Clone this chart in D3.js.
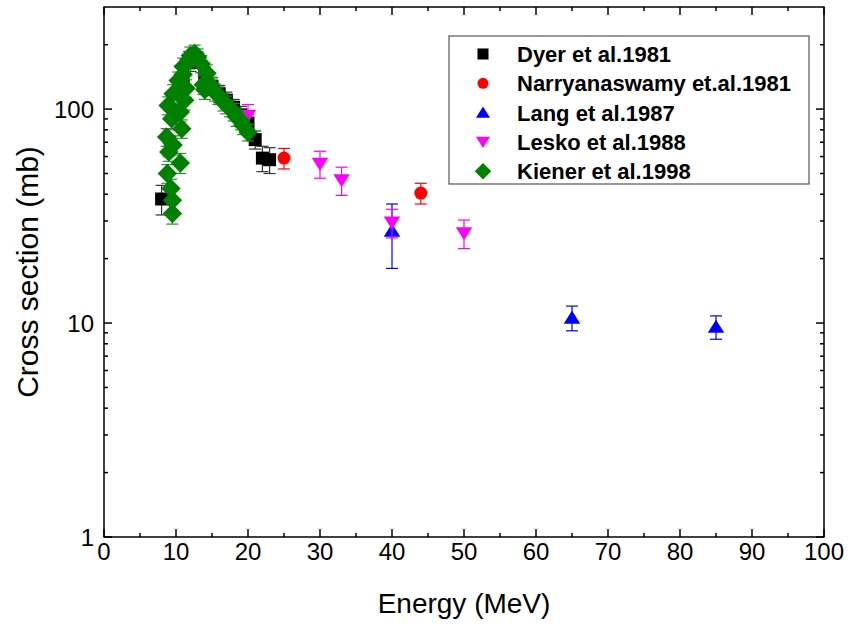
<!DOCTYPE html>
<html>
<head>
<meta charset="utf-8">
<script src="https://cdn.jsdelivr.net/npm/d3@7"></script>
<style>
  body { margin: 0; background: #fff; }
  text { font-family: "Liberation Sans", Arial, sans-serif; }
</style>
</head>
<body>
<script>
// data: energy (MeV), cross section (mb), error (mb)
var dyerE   = [8, 10, 11, 12, 13, 14, 15, 16, 17, 18, 19, 20, 21, 22, 23];
var dyerY   = [38, 95, 130, 165, 170, 145, 128, 118, 110, 102, 94, 86, 72, 59, 58];
var dyerErr = [6, 10, 12, 15, 15, 13, 12, 11, 10, 9, 9, 8, 7, 8, 8];

var narE   = [25, 44];
var narY   = [59, 40.5];
var narErr = [6.5, 4.5];

var langE   = [40, 65, 85];
var langY   = [27, 10.6, 9.6];
var langErr = [9, 1.4, 1.2];

var leskoE   = [9, 20, 30, 33, 40, 50];
var leskoY   = [70, 93, 55.5, 46.5, 29.5, 26.3];
var leskoErr = [10, 12, 8, 7, 4.5, 4];

var kienerE = [9.5, 9.5, 9.3, 8.8, 10.6, 9.0, 9.6, 8.7, 10.8, 9.4, 10.6, 8.9, 11.2, 9.6, 11.4, 10.3, 11.0, 11.0, 11.8,
               12.0, 12.6, 13.0, 13.5, 14.3, 13.8, 14.0, 14.9, 15.4, 15.9, 16.6, 17.0, 17.5, 18.0, 18.4, 19.0, 19.3, 20.0];
var kienerY = [32.5, 37.5, 42.5, 50, 56, 63, 68, 74, 81, 90, 97, 104, 110, 118, 125, 136, 145, 158, 170,
               178, 182, 175, 163, 147, 130, 123, 129, 120, 116, 108, 105, 101, 97, 92, 88, 84, 78];
var kienerErr = [3.5, 4, 4.5, 5, 6, 6, 7, 7, 8, 9, 10, 10, 11, 12, 12, 13, 14, 15, 16,
                 17, 17, 16, 15, 14, 13, 12, 12, 11, 11, 10, 10, 9, 9, 9, 8, 8, 7];

var seriesNames = ["Dyer et al.1981", "Narryanaswamy et.al.1981", "Lang et al.1987", "Lesko et al.1988", "Kiener et al.1998"];
var xTicks = [0, 10, 20, 30, 40, 50, 60, 70, 80, 90, 100];
var yTicks = [1, 10, 100];

var width = 848, height = 624;
var pLeft = 104, pRight = 824, pTop = 7, pBottom = 537;

var svg = d3.select("body").append("svg")
    .attr("width", width)
    .attr("height", height);

var x = d3.scaleLinear().domain([0, 100]).range([pLeft, pRight]);
var y = d3.scaleLog().domain([1, 300]).range([pBottom, pTop]);

// minor ticks
var xMinor = d3.range(5, 100, 10);
var yMinor = [];
[1, 10, 100].forEach(function(dec){
    for (var k = 2; k <= 9; k++) { if (dec * k < 300) yMinor.push(dec * k); }
});

var axes = svg.append("g").attr("stroke", "#000").attr("stroke-width", 1.5);
xTicks.forEach(function(t){
    axes.append("line").attr("x1", x(t)).attr("x2", x(t)).attr("y1", pBottom).attr("y2", pBottom - 8);
    axes.append("line").attr("x1", x(t)).attr("x2", x(t)).attr("y1", pTop).attr("y2", pTop + 8);
});
xMinor.forEach(function(t){
    axes.append("line").attr("x1", x(t)).attr("x2", x(t)).attr("y1", pBottom).attr("y2", pBottom - 4);
    axes.append("line").attr("x1", x(t)).attr("x2", x(t)).attr("y1", pTop).attr("y2", pTop + 4);
});
yTicks.forEach(function(t){
    axes.append("line").attr("x1", pLeft).attr("x2", pLeft + 8).attr("y1", y(t)).attr("y2", y(t));
    axes.append("line").attr("x1", pRight).attr("x2", pRight - 8).attr("y1", y(t)).attr("y2", y(t));
});
yMinor.forEach(function(t){
    axes.append("line").attr("x1", pLeft).attr("x2", pLeft + 4).attr("y1", y(t)).attr("y2", y(t));
    axes.append("line").attr("x1", pRight).attr("x2", pRight - 4).attr("y1", y(t)).attr("y2", y(t));
});
axes.append("rect").attr("x", pLeft).attr("y", pTop)
    .attr("width", pRight - pLeft).attr("height", pBottom - pTop)
    .attr("fill", "none");

svg.selectAll(".xlab").data(xTicks).enter().append("text")
    .attr("x", function(d){ return x(d); })
    .attr("y", 560)
    .attr("text-anchor", "middle")
    .attr("font-size", 24)
    .text(function(d){ return d; });

svg.selectAll(".ylab").data(yTicks).enter().append("text")
    .attr("x", 94)
    .attr("y", function(d){ return y(d) + 9; })
    .attr("text-anchor", "end")
    .attr("font-size", 24)
    .text(function(d){ return d; });

svg.append("text").attr("x", 464).attr("y", 613)
    .attr("text-anchor", "middle").attr("font-size", 28)
    .text("Energy (MeV)");
svg.append("text")
    .attr("transform", "translate(38," + ((pTop + pBottom) / 2) + ") rotate(-90)")
    .attr("text-anchor", "middle").attr("font-size", 30)
    .text("Cross section (mb)");

// marker shapes
function shapePath(kind, s){
    var h = s / 2;
    if (kind == "square") return "M" + (-h) + "," + (-h) + "h" + s + "v" + s + "h" + (-s) + "Z";
    if (kind == "circle") return d3.symbol(d3.symbolCircle, Math.PI * h * h)();
    if (kind == "up") return "M0," + (-h * 0.95) + "L" + (h * 1.1) + "," + (h * 0.8) + "L" + (-h * 1.1) + "," + (h * 0.8) + "Z";
    if (kind == "down") return "M0," + (h * 0.95) + "L" + (h * 1.1) + "," + (-h * 0.8) + "L" + (-h * 1.1) + "," + (-h * 0.8) + "Z";
    if (kind == "diamond") { var d = s * 0.72; return "M0," + (-d) + "L" + d + ",0L0," + d + "L" + (-d) + ",0Z"; }
}

var series = [
    {E: dyerE, Y: dyerY, err: dyerErr, color: "#000000", bar: "#333333", kind: "square", size: 13},
    {E: narE, Y: narY, err: narErr, color: "#ff0000", bar: "#ff0000", kind: "circle", size: 13},
    {E: langE, Y: langY, err: langErr, color: "#0000ff", bar: "#0000ff", kind: "up", size: 15},
    {E: leskoE, Y: leskoY, err: leskoErr, color: "#ff00ff", bar: "#ff00ff", kind: "down", size: 15},
    {E: kienerE, Y: kienerY, err: kienerErr, color: "#008000", bar: "#2e8b2e", kind: "diamond", size: 13.5}
];

series.forEach(function(s){
    var pts = s.E.map(function(e, i){ return {e: e, v: s.Y[i], err: s.err[i]}; });
    var g = svg.append("g");
    var eb = g.selectAll(".eb").data(pts).enter().append("g")
        .attr("stroke", s.bar).attr("stroke-width", 1.2);
    eb.append("line")
        .attr("x1", function(d){ return x(d.e); }).attr("x2", function(d){ return x(d.e); })
        .attr("y1", function(d){ return y(d.v - d.err); }).attr("y2", function(d){ return y(d.v + d.err); });
    eb.append("line")
        .attr("x1", function(d){ return x(d.e) - 6; }).attr("x2", function(d){ return x(d.e) + 6; })
        .attr("y1", function(d){ return y(d.v + d.err); }).attr("y2", function(d){ return y(d.v + d.err); });
    eb.append("line")
        .attr("x1", function(d){ return x(d.e) - 6; }).attr("x2", function(d){ return x(d.e) + 6; })
        .attr("y1", function(d){ return y(d.v - d.err); }).attr("y2", function(d){ return y(d.v - d.err); });
    g.selectAll(".pt").data(pts).enter().append("path")
        .attr("d", shapePath(s.kind, s.size))
        .attr("transform", function(d){ return "translate(" + x(d.e) + "," + y(d.v) + ")"; })
        .attr("fill", s.color);
});

// legend
var leg = svg.append("g");
leg.append("rect").attr("x", 449).attr("y", 36).attr("width", 360).attr("height", 148)
    .attr("fill", "#fff").attr("stroke", "#555").attr("stroke-width", 1.2);
series.forEach(function(s, i){
    var cy = 54 + i * 29.3;
    leg.append("path").attr("d", shapePath(s.kind, s.size * 0.85))
        .attr("transform", "translate(483," + cy + ")")
        .attr("fill", s.color);
    leg.append("text").attr("x", 517).attr("y", cy + 8)
        .attr("font-size", 22).attr("font-weight", "bold")
        .text(seriesNames[i]);
});
</script>
</body>
</html>
